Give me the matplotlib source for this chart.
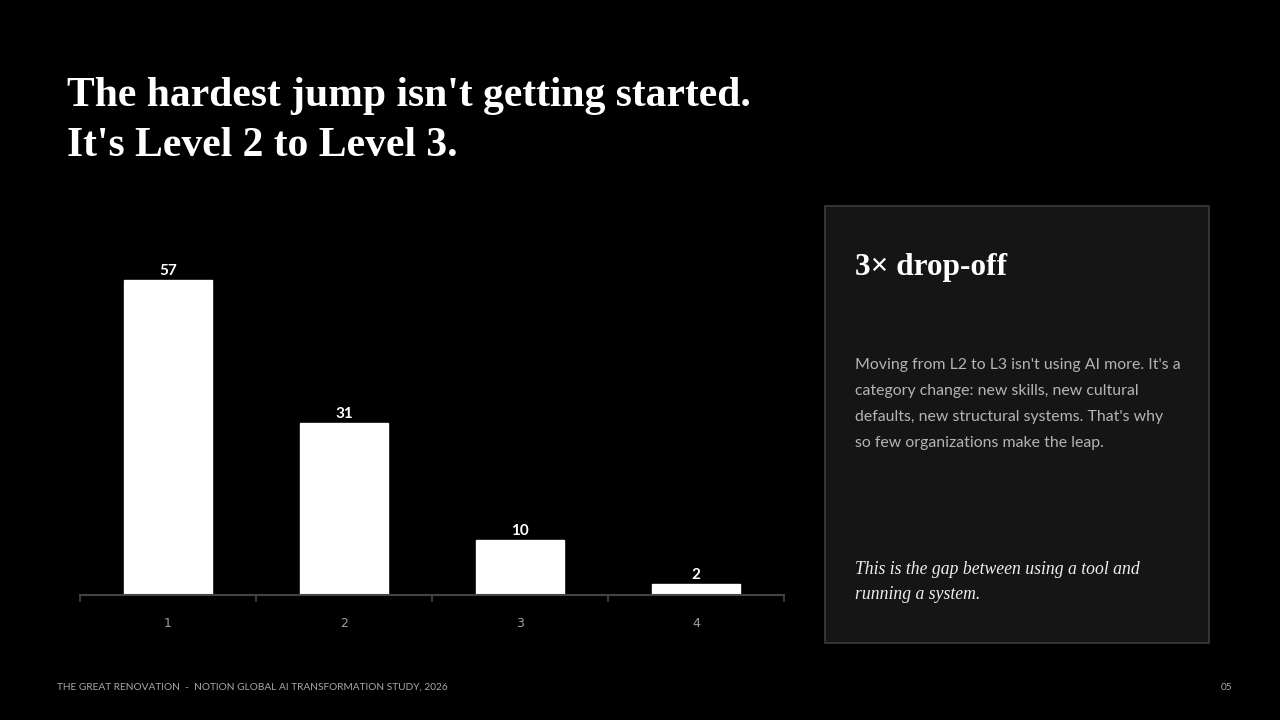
import matplotlib
matplotlib.use('Agg')
import matplotlib.pyplot as plt
from matplotlib.patches import Rectangle

# data
levels = ['1', '2', '3', '4']
shares = [57, 31, 10, 2]

title_lines = ["The hardest jump isn't getting started.", "It's Level 2 to Level 3."]
card_head = "3\u00d7 drop-off"
card_body = ["Moving from L2 to L3 isn't using AI more. It's a",
             "category change: new skills, new cultural",
             "defaults, new structural systems. That's why",
             "so few organizations make the leap."]
card_note = ["This is the gap between using a tool and", "running a system."]
footer = "THE GREAT RENOVATION  -  NOTION GLOBAL AI TRANSFORMATION STUDY, 2026"
page_no = "05"

W, H = 1280, 720
fig = plt.figure(figsize=(12.8, 7.2), dpi=100)
fig.patch.set_facecolor('black')


def fx(x):
    return x / W


def fy(y):
    return 1 - y / H


# title
for i, line in enumerate(title_lines):
    fig.text(fx(67), fy(96 + i * 50), line, color='white', fontsize=30,
             fontweight='bold', family='Liberation Serif', va='center', ha='left')

# bar chart
ax = fig.add_axes([fx(80), fy(595), fx(784) - fx(80), (595 - 263) / H])
ax.set_facecolor('black')
x = list(range(1, len(levels) + 1))
ax.bar(x, shares, width=0.5, color='white', edgecolor='white', zorder=2)
for xi, v in zip(x, shares):
    ax.annotate(str(v), (xi, v), xytext=(0, 1.5), textcoords='offset points',
                ha='center', va='bottom', color='white', fontsize=11,
                fontweight='bold', family='Lato')
ax.set_xlim(0.5, len(levels) + 0.5)
ax.set_ylim(0, 60)
ax.set_yticks([])
for s in ['top', 'right', 'left']:
    ax.spines[s].set_visible(False)
ax.spines['bottom'].set_color('#444444')
ax.spines['bottom'].set_linewidth(1.5)
ax.set_xticks([i + 0.5 for i in range(len(levels) + 1)])
ax.set_xticklabels([])
ax.set_xticks(x, minor=True)
ax.set_xticklabels(levels, minor=True)
ax.tick_params(axis='x', which='major', length=5, width=1.2, color='#444444')
ax.tick_params(axis='x', which='minor', length=0, pad=15.5, labelsize=9,
               labelcolor='#a0a0a0')

# side card
card = Rectangle((fx(825), fy(643)), fx(1209) - fx(825), (643 - 206) / H,
                 transform=fig.transFigure, facecolor='#151515',
                 edgecolor='#3c3c3c', linewidth=1.2)
fig.patches.append(card)
fig.text(fx(855), fy(267), card_head, color='white', fontsize=22.5,
         fontweight='bold', family='Liberation Serif', va='center')
for i, line in enumerate(card_body):
    fig.text(fx(855), fy(365 + i * 26), line, color='#b4b4b4', fontsize=11.4,
             family='Lato', va='center')
for i, line in enumerate(card_note):
    fig.text(fx(855), fy(569 + i * 25.5), line, color='#f0f0f0', fontsize=12.7,
             style='italic', family='Liberation Serif', va='center')

# footer
fig.text(fx(57), fy(687), footer, color='#a8a8a8', fontsize=7.3,
         family='Lato', va='center')
fig.text(fx(1232), fy(687), page_no, color='#a8a8a8', fontsize=7.3,
         family='Lato', va='center', ha='right')

fig.savefig('out.png', dpi=100, facecolor='black')
